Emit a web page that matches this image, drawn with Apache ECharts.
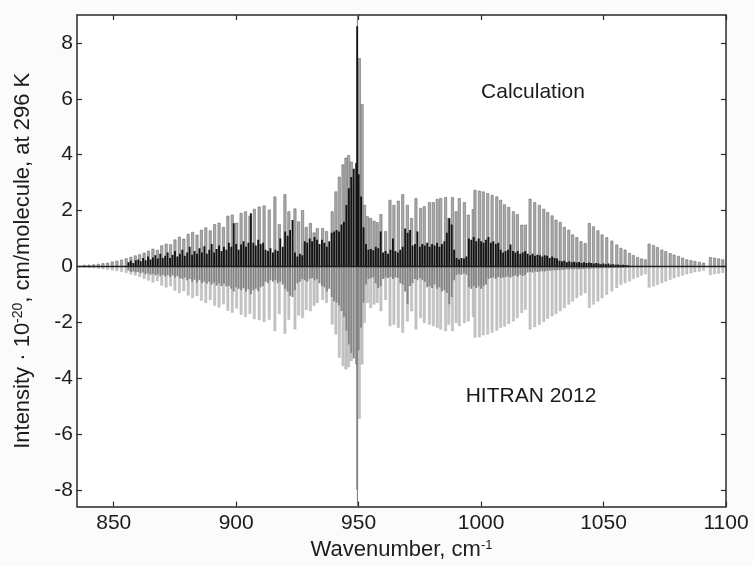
<!DOCTYPE html>
<html><head><meta charset="utf-8">
<script src="https://cdn.jsdelivr.net/npm/echarts@6/dist/echarts.min.js"></script>
<style>html,body{margin:0;padding:0;background:#fbfbfb}#c{width:753px;height:566px}</style>
</head><body><div id="c"></div>
<script>
const xTicks = [850, 900, 950, 1000, 1050, 1100];
const yTicks = [-8, -6, -4, -2, 0, 2, 4, 6, 8];
const panelLabels = ['Calculation', 'HITRAN 2012'];
const qBranchCenter = [949.5];
const xRange = [835, 1100];
const yRange = [-8.6, 9];

// Regular (P/R-branch) lines: positions and intensities
const lineX = [838.0,839.9,841.8,843.7,845.6,847.5,849.4,851.3,853.2,855.1,857.0,858.8,860.6,862.4,864.2,866.0,867.8,869.6,871.4,873.2,875.0,876.8,878.6,880.4,882.2,884.0,885.8,887.6,889.4,891.2,893.0,894.8,896.6,898.4,900.2,902.0,903.8,905.6,907.4,909.4,911.4,913.5,915.8,917.6,919.9,921.5,924.0,925.5,927.1,928.6,930.3,931.8,933.1,935.3,936.9,939.2,940.7,942.1,943.6,944.8,945.9,947.0,950.3,951.4,952.4,953.6,954.9,956.3,957.6,959.1,961.0,962.8,964.4,966.2,968.0,969.9,971.6,973.4,975.3,976.8,978.9,980.5,982.1,983.5,985.5,986.8,988.3,989.8,991.1,993.2,994.8,996.8,997.5,999.3,1000.9,1002.7,1004.5,1006.4,1008.0,1009.6,1011.3,1013.2,1014.8,1016.6,1018.1,1020.0,1021.9,1023.8,1025.6,1027.2,1029.0,1030.6,1032.3,1034.0,1035.8,1037.4,1039.1,1040.8,1042.5,1044.2,1045.9,1047.7,1049.4,1051.3,1053.4,1055.4,1057.1,1058.8,1060.6,1062.2,1063.9,1065.5,1067.1,1068.6,1070.4,1072.0,1073.8,1075.4,1077.2,1078.8,1080.6,1082.3,1084.0,1085.7,1087.3,1089.1,1090.8,1093.6,1095.3,1097.0,1098.7];
const calcLine = [0.04,0.05,0.06,0.08,0.10,0.12,0.16,0.19,0.23,0.28,0.33,0.38,0.42,0.48,0.55,0.62,0.58,0.74,0.80,0.78,0.95,1.05,0.98,1.15,1.22,1.12,1.30,1.38,1.28,1.50,1.55,1.40,1.80,1.84,1.55,1.90,1.96,1.80,2.05,2.13,2.17,2.02,2.49,1.50,2.57,1.96,2.06,1.60,2.00,1.40,1.54,1.20,1.36,1.36,1.25,1.96,2.67,3.20,3.64,3.88,3.97,3.74,7.44,5.80,2.19,1.78,1.72,1.62,1.57,1.86,1.25,2.37,2.19,2.34,2.57,2.19,1.72,2.43,2.08,2.14,2.29,2.29,2.40,2.43,2.47,1.72,2.47,1.96,2.43,2.29,1.84,2.04,2.73,2.70,2.67,2.61,2.55,2.49,2.37,2.21,2.12,1.96,1.86,1.48,1.48,2.41,2.29,2.19,2.05,1.93,1.81,1.66,1.58,1.40,1.30,1.13,1.03,0.89,0.82,1.54,1.42,1.28,1.13,1.03,0.91,0.77,0.65,0.59,0.47,0.39,0.32,0.27,0.24,0.80,0.75,0.68,0.59,0.53,0.46,0.41,0.36,0.30,0.24,0.21,0.18,0.15,0.12,0.32,0.30,0.27,0.24];
const hitranLine = [-0.04,-0.05,-0.06,-0.07,-0.09,-0.11,-0.13,-0.16,-0.19,-0.23,-0.28,-0.32,-0.37,-0.44,-0.50,-0.57,-0.52,-0.68,-0.75,-0.70,-0.86,-0.95,-0.88,-1.03,-1.12,-1.05,-1.22,-1.30,-1.20,-1.40,-1.46,-1.35,-1.58,-1.65,-1.50,-1.72,-1.80,-1.70,-1.88,-1.92,-1.98,-1.90,-2.31,-1.70,-2.40,-1.90,-2.25,-1.75,-1.84,-1.55,-1.60,-1.40,-1.30,-1.19,-1.30,-2.07,-2.43,-3.26,-3.56,-3.68,-3.60,-3.38,-5.45,-3.50,-2.02,-1.30,-1.48,-1.36,-1.30,-1.60,-1.19,-2.13,-2.08,-2.19,-2.37,-1.96,-1.60,-2.25,-1.84,-2.02,-2.08,-2.13,-2.19,-2.25,-2.31,-2.08,-2.31,-2.02,-2.13,-2.02,-1.96,-1.80,-2.55,-2.53,-2.46,-2.43,-2.37,-2.29,-2.19,-2.14,-2.05,-1.96,-1.84,-1.66,-1.54,-2.25,-2.17,-2.08,-1.98,-1.87,-1.78,-1.70,-1.60,-1.48,-1.36,-1.25,-1.13,-1.03,-0.95,-1.48,-1.36,-1.25,-1.13,-1.01,-0.89,-0.77,-0.65,-0.59,-0.53,-0.44,-0.39,-0.32,-0.27,-0.75,-0.71,-0.65,-0.59,-0.53,-0.47,-0.42,-0.36,-0.32,-0.27,-0.24,-0.20,-0.18,-0.15,-0.30,-0.27,-0.25,-0.23];

// Dense (weak / Q-branch) lines
const denseX = [856,857,858,859,860,861,862,863,864,865,866,867,868,869,870,871,872,873,874,875,876,877,878,879,880,881,882,883,884,885,886,887,888,889,890,891,892,893,894,895,896,897,898,899,900,901,902,903,904,905,906,907,908,909,910,911,912,913,914,915,916,917,918,919,920,921,922,923,924,925,926,927,928,929,930,931,932,933,934,935,936,937,938,939,940,941,942,943,944,945,946,947,948,949,949.4,950,951,952,953,954,955,956,957,958,959,960,961,962,963,964,965,966,967,968,969,970,971,972,973,974,975,976,977,978,979,980,981,982,983,984,985,986,987,988,989,990,991,992,993,994,995,996,997,998,999,1000,1001,1002,1003,1004,1005,1006,1007,1008,1009,1010,1011,1012,1013,1014,1015,1016,1017,1018,1019,1020,1021,1022,1023,1024,1025,1026,1027,1028,1029,1030,1031,1032,1033,1034,1035,1036,1037,1038,1039,1040,1041,1042,1043,1044,1045,1046,1047,1048,1049,1050,1051,1052,1053,1054,1055,1056,1057,1058,1059,1060];
const calcDense = [0.15,0.2,0.12,0.22,0.25,0.18,0.3,0.22,0.35,0.25,
0.32,0.4,0.28,0.45,0.3,0.38,0.5,0.3,0.42,0.55,
0.35,0.45,0.6,0.38,0.5,0.7,0.42,0.55,0.45,0.65,
0.5,0.72,0.45,0.6,0.8,0.5,0.62,0.75,0.55,0.7,
0.6,0.85,0.7,1.54,0.8,0.6,0.78,0.9,0.7,0.85,
1.9,0.85,0.75,0.95,0.8,0.85,0.6,0.55,0.65,0.5,
0.6,0.55,1.0,0.7,1.25,1.1,1.3,1.66,0.5,0.35,
0.45,0.4,0.9,0.85,1.0,0.9,1.05,0.95,0.8,0.95,
0.85,0.7,0.9,1.2,1.25,1.3,1.25,1.5,1.6,2.2,
2.8,3.2,3.5,3.7,8.6,
3.3,2.5,1.4,0.8,0.6,0.62,0.58,0.7,0.65,1.25,
0.5,0.55,0.45,0.6,1.0,0.55,0.5,0.6,0.7,1.36,
1.2,1.3,0.75,0.8,1.25,0.7,0.8,0.75,0.85,0.7,
0.8,0.75,0.85,0.7,0.8,0.9,1.2,1.72,1.5,0.6,
0.3,0.25,0.3,0.28,0.35,1.0,0.95,1.05,0.9,1.0,
0.9,0.85,0.95,1.05,0.85,0.9,0.8,0.85,0.6,0.5,
0.55,0.6,0.78,0.55,0.5,0.55,0.45,0.5,0.55,0.45,
0.4,0.45,0.38,0.42,0.4,0.35,0.4,0.38,0.3,0.35,
0.3,0.28,0.2,0.18,0.2,0.15,0.18,0.15,0.17,0.14,
0.16,0.12,0.15,0.12,0.14,0.12,0.1,0.12,0.1,0.08,
0.1,0.08,0.1,0.07,0.08,0.06,0.07,0.05,0.06,0.05,0.04];
const hitranDense = [-0.15,-0.2,-0.18,-0.22,-0.2,-0.25,-0.22,-0.28,-0.25,-0.3,
-0.26,-0.32,-0.28,-0.35,-0.3,-0.36,-0.32,-0.38,-0.33,-0.4,
-0.35,-0.42,-0.45,-0.4,-0.5,-0.45,-0.55,-0.48,-0.58,-0.5,
-0.6,-0.55,-0.62,-0.55,-0.65,-0.58,-0.68,-0.6,-0.7,-0.62,
-0.72,-0.7,-0.8,-0.9,-0.75,-0.8,-0.85,-0.78,-0.9,-0.82,
-1.0,-0.85,-0.8,-0.88,-0.75,-0.7,-0.55,-0.6,-0.5,-0.55,
-0.5,-0.6,-0.55,-0.65,-0.8,-0.9,-1.05,-1.1,-0.85,-0.6,
-0.55,-0.45,-0.5,-0.55,-0.45,-0.42,-0.5,-0.45,-0.6,-0.7,
-0.75,-0.9,-0.8,-1.1,-1.25,-1.3,-1.4,-1.6,-1.8,-2.3,
-2.8,-3.1,-3.3,-3.5,-8.0,
-3.0,-2.2,-1.3,-0.65,-0.45,-0.42,-0.4,-0.6,-0.77,-0.7,
-0.45,-0.4,-0.42,-0.38,-0.45,-0.4,-0.42,-0.6,-0.65,-0.9,
-1.36,-0.7,-0.6,-0.45,-0.5,-0.42,-0.48,-0.55,-0.75,-0.7,
-0.77,-0.65,-0.8,-0.75,-0.9,-0.85,-0.95,-1.36,-1.1,-0.5,
-0.3,-0.28,-0.3,-0.25,-0.3,-0.75,-0.8,-0.7,-0.77,-0.72,
-0.8,-0.7,-0.65,-0.45,-0.42,-0.4,-0.45,-0.38,-0.42,-0.4,
-0.38,-0.36,-0.4,-0.35,-0.33,-0.36,-0.3,-0.34,-0.3,-0.22,
-0.2,-0.22,-0.18,-0.2,-0.18,-0.17,-0.18,-0.15,-0.16,-0.14,
-0.15,-0.13,-0.14,-0.12,-0.12,-0.1,-0.11,-0.1,-0.1,-0.09,
-0.1,-0.09,-0.09,-0.08,-0.09,-0.08,-0.08,-0.07,-0.08,-0.07,
-0.07,-0.06,-0.07,-0.06,-0.06,-0.05,-0.06,-0.05,-0.05,-0.04,-0.04];

const FONT = 'Liberation Sans, Arial, Helvetica, sans-serif';
const INK = '#1c1c1c';

function stick(width, fill, stroke, lw) {
  return function (params, api) {
    const x = api.value(0), y = api.value(1);
    const p0 = api.coord([x, 0]);
    const p1 = api.coord([x, y]);
    return {
      type: 'rect',
      shape: { x: p0[0] - width / 2, y: Math.min(p0[1], p1[1]), width: width, height: Math.abs(p1[1] - p0[1]) },
      style: { fill: fill, stroke: stroke, lineWidth: lw }
    };
  };
}
function pairs(xs, ys) { return xs.map((x, i) => [x, ys[i]]); }
const plain = v => String(v);

const frameLine = { show: true, onZero: false, lineStyle: { color: '#2a2a2a', width: 1.5 } };
const tickStyle = { lineStyle: { color: '#2a2a2a', width: 1.2 } };

const chart = echarts.init(document.getElementById('c'), null, { renderer: 'canvas' });
chart.setOption({
  backgroundColor: '#fbfbfb',
  animation: false,
  grid: { left: 77, right: 27, top: 15, bottom: 58, backgroundColor: '#ffffff', show: true, borderWidth: 0 },
  xAxis: [{
    type: 'value', min: xRange[0], max: xRange[1], position: 'bottom',
    axisLine: frameLine,
    axisTick: Object.assign({ show: true, inside: true, length: 5, customValues: xTicks }, tickStyle),
    axisLabel: { customValues: xTicks, formatter: plain, fontSize: 21, color: INK, fontFamily: FONT, margin: 6 },
    splitLine: { show: false },
    name: 'Wavenumber, cm{sup|-1}', nameLocation: 'middle', nameGap: 31,
    nameTextStyle: { fontSize: 22, color: INK, fontFamily: FONT,
      rich: { sup: { fontSize: 13, color: INK, fontFamily: FONT, verticalAlign: 'top', padding: [0, 0, 10, 0] } } }
  }, {
    type: 'value', min: xRange[0], max: xRange[1], position: 'top',
    axisLine: frameLine,
    axisTick: Object.assign({ show: true, inside: true, length: 5, customValues: xTicks }, tickStyle),
    axisLabel: { show: false }, splitLine: { show: false }
  }],
  yAxis: [{
    type: 'value', min: yRange[0], max: yRange[1], position: 'left',
    axisLine: frameLine,
    axisTick: Object.assign({ show: true, inside: true, length: 5, customValues: yTicks }, tickStyle),
    axisLabel: { customValues: yTicks, formatter: plain, fontSize: 21, color: INK, fontFamily: FONT, margin: 4 },
    splitLine: { show: false },
    name: 'Intensity · 10{sup|-20}, cm/molecule, at 296 K', nameLocation: 'middle', nameGap: 42, nameRotate: 90,
    nameTextStyle: { fontSize: 22, color: INK, fontFamily: FONT,
      rich: { sup: { fontSize: 14, color: INK, fontFamily: FONT, verticalAlign: 'top', padding: [0, 0, 10, 0] } } }
  }, {
    type: 'value', min: yRange[0], max: yRange[1], position: 'right',
    axisLine: frameLine,
    axisTick: Object.assign({ show: true, inside: true, length: 5, customValues: yTicks }, tickStyle),
    axisLabel: { show: false }, splitLine: { show: false }
  }],
  series: [
    { name: 'Q-branch centre', type: 'line', silent: true, symbol: 'none', z: 1,
      lineStyle: { color: '#7a7a7a', width: 1 },
      data: [[qBranchCenter[0], yRange[0]], [qBranchCenter[0], yRange[1]]] },
    { name: 'Calculation lines', type: 'custom', clip: true, renderItem: stick(2.3, '#ababab', '#6e6e6e', 0.6),
      encode: { x: 0, y: 1 }, data: pairs(lineX, calcLine), z: 2 },
    { name: 'HITRAN lines', type: 'custom', clip: true, renderItem: stick(2.3, '#c4c4c4', '#adadad', 0.4),
      encode: { x: 0, y: 1 }, data: pairs(lineX, hitranLine), z: 2 },
    { name: 'Calculation dense', type: 'custom', clip: true, renderItem: stick(1.9, '#141414', null, 0),
      encode: { x: 0, y: 1 }, data: pairs(denseX, calcDense), z: 3 },
    { name: 'HITRAN dense', type: 'custom', clip: true, renderItem: stick(1.9, '#858585', null, 0),
      encode: { x: 0, y: 1 }, data: pairs(denseX, hitranDense), z: 3 },
    { name: 'Zero', type: 'line', silent: true, symbol: 'none', z: 4,
      lineStyle: { color: '#202020', width: 1.5 },
      data: [[xRange[0], 0], [xRange[1], 0]] }
  ],
  graphic: [
    { type: 'text', x: 533, y: 92, z: 10, style: { text: panelLabels[0], font: '21px ' + FONT, fill: INK, textAlign: 'center', textVerticalAlign: 'middle' } },
    { type: 'text', x: 531, y: 396, z: 10, style: { text: panelLabels[1], font: '21px ' + FONT, fill: INK, textAlign: 'center', textVerticalAlign: 'middle' } }
  ]
});
</script></body></html>
